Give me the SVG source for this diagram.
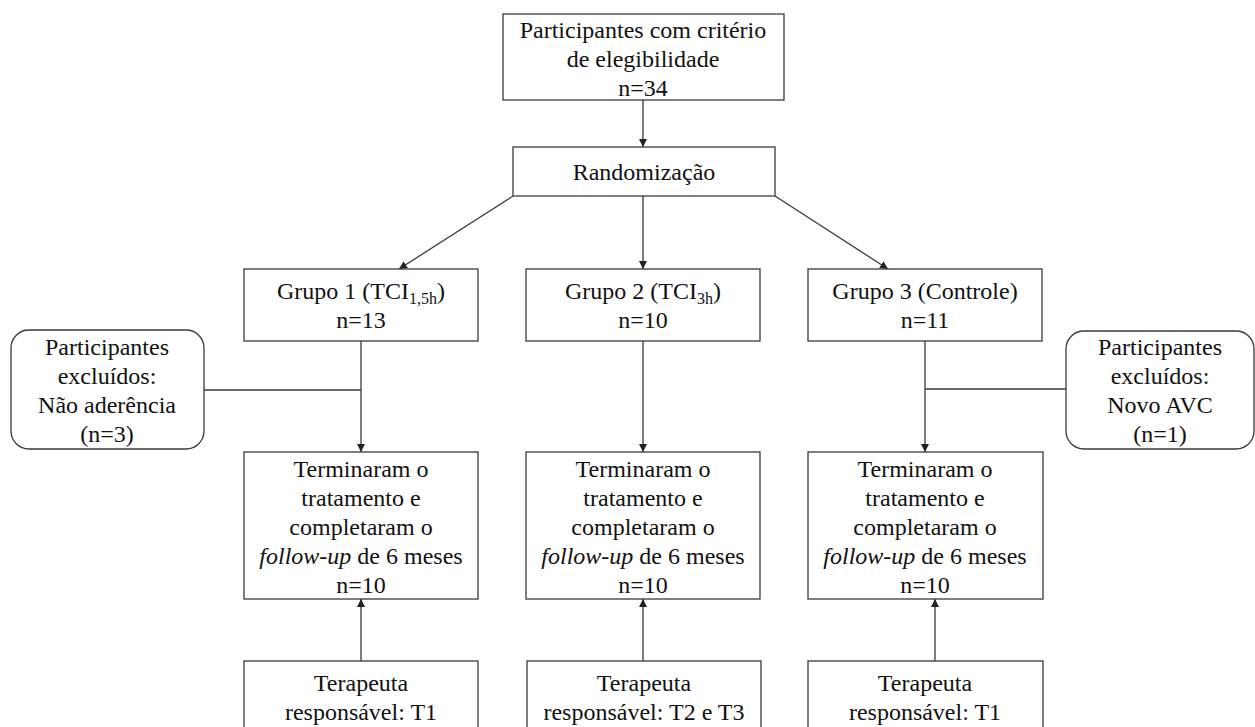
<svg xmlns="http://www.w3.org/2000/svg" width="1255" height="727" viewBox="0 0 1255 727">
<style>
  .box { fill: #ffffff; stroke: #3a3a3a; stroke-width: 1.3; }
  .line { fill: none; stroke: #3a3a3a; stroke-width: 1.3; }
  text { font-family: "Liberation Serif", "Times New Roman", serif; font-size: 24px; fill: #111; text-anchor: middle; }
  .sub { font-size: 16px; }
  .it { font-style: italic; }
</style>
<defs>
  <marker id="arr" viewBox="0 0 10 10" refX="10" refY="5" markerWidth="8" markerHeight="8" markerUnits="userSpaceOnUse" orient="auto">
    <path d="M0,0 L10,5 L0,10 z" fill="#222"/>
  </marker>
</defs>
<rect width="1255" height="727" fill="#ffffff"/>

<g id="connectors">
  <line class="line" x1="643" y1="100" x2="643" y2="147" marker-end="url(#arr)"/>
  <line class="line" x1="513" y1="196" x2="399" y2="269" marker-end="url(#arr)"/>
  <line class="line" x1="643" y1="196" x2="643" y2="269" marker-end="url(#arr)"/>
  <line class="line" x1="775" y1="196" x2="888" y2="269" marker-end="url(#arr)"/>
  <line class="line" x1="361" y1="341" x2="361" y2="452" marker-end="url(#arr)"/>
  <line class="line" x1="204" y1="390" x2="361" y2="390"/>
  <line class="line" x1="643" y1="341" x2="643" y2="452" marker-end="url(#arr)"/>
  <line class="line" x1="925" y1="341" x2="925" y2="452" marker-end="url(#arr)"/>
  <line class="line" x1="925" y1="389" x2="1066" y2="389"/>
  <line class="line" x1="361" y1="661" x2="361" y2="599" marker-end="url(#arr)"/>
  <line class="line" x1="643" y1="661" x2="643" y2="599" marker-end="url(#arr)"/>
  <line class="line" x1="935" y1="661" x2="935" y2="599" marker-end="url(#arr)"/>
</g>

<g id="eligible">
  <rect class="box" x="503" y="14" width="281" height="86"/>
  <text x="643" y="38">Participantes com critério</text>
  <text x="643" y="67">de elegibilidade</text>
  <text x="643" y="96">n=34</text>
</g>

<g id="randomizacao">
  <rect class="box" x="513" y="147" width="262" height="49"/>
  <text x="644" y="180">Randomização</text>
</g>

<g id="grupo1">
  <rect class="box" x="244" y="269" width="234" height="72"/>
  <text x="361" y="299">Grupo 1 (TCI<tspan class="sub" dy="5">1,5h</tspan><tspan dy="-5">)</tspan></text>
  <text x="361" y="328">n=13</text>
</g>

<g id="grupo2">
  <rect class="box" x="526" y="269" width="234" height="72"/>
  <text x="643" y="299">Grupo 2 (TCI<tspan class="sub" dy="5">3h</tspan><tspan dy="-5">)</tspan></text>
  <text x="643" y="328">n=10</text>
</g>

<g id="grupo3">
  <rect class="box" x="808" y="269" width="234" height="72"/>
  <text x="925" y="299">Grupo 3 (Controle)</text>
  <text x="925" y="328">n=11</text>
</g>

<g id="excluidos1">
  <rect class="box" x="11" y="330" width="193" height="119" rx="18" ry="18"/>
  <text x="107" y="355">Participantes</text>
  <text x="107" y="384">excluídos:</text>
  <text x="107" y="413">Não aderência</text>
  <text x="107" y="442">(n=3)</text>
</g>

<g id="excluidos3">
  <rect class="box" x="1066" y="331" width="188" height="118" rx="18" ry="18"/>
  <text x="1160" y="355">Participantes</text>
  <text x="1160" y="384">excluídos:</text>
  <text x="1160" y="413">Novo AVC</text>
  <text x="1160" y="442">(n=1)</text>
</g>

<g id="final1">
  <rect class="box" x="244" y="452" width="234" height="147"/>
  <text x="361" y="477">Terminaram o</text>
  <text x="361" y="506">tratamento e</text>
  <text x="361" y="535">completaram o</text>
  <text x="361" y="564"><tspan class="it">follow-up</tspan> de 6 meses</text>
  <text x="361" y="593">n=10</text>
</g>

<g id="final2">
  <rect class="box" x="526" y="452" width="234" height="147"/>
  <text x="643" y="477">Terminaram o</text>
  <text x="643" y="506">tratamento e</text>
  <text x="643" y="535">completaram o</text>
  <text x="643" y="564"><tspan class="it">follow-up</tspan> de 6 meses</text>
  <text x="643" y="593">n=10</text>
</g>

<g id="final3">
  <rect class="box" x="808" y="452" width="235" height="147"/>
  <text x="925" y="477">Terminaram o</text>
  <text x="925" y="506">tratamento e</text>
  <text x="925" y="535">completaram o</text>
  <text x="925" y="564"><tspan class="it">follow-up</tspan> de 6 meses</text>
  <text x="925" y="593">n=10</text>
</g>

<g id="terapeuta1">
  <rect class="box" x="244" y="661" width="234" height="90"/>
  <text x="361" y="691">Terapeuta</text>
  <text x="361" y="720">responsável: T1</text>
</g>

<g id="terapeuta2">
  <rect class="box" x="527" y="661" width="234" height="90"/>
  <text x="644" y="691">Terapeuta</text>
  <text x="644" y="720">responsável: T2 e T3</text>
</g>

<g id="terapeuta3">
  <rect class="box" x="808" y="661" width="235" height="90"/>
  <text x="925" y="691">Terapeuta</text>
  <text x="925" y="720">responsável: T1</text>
</g>
</svg>
